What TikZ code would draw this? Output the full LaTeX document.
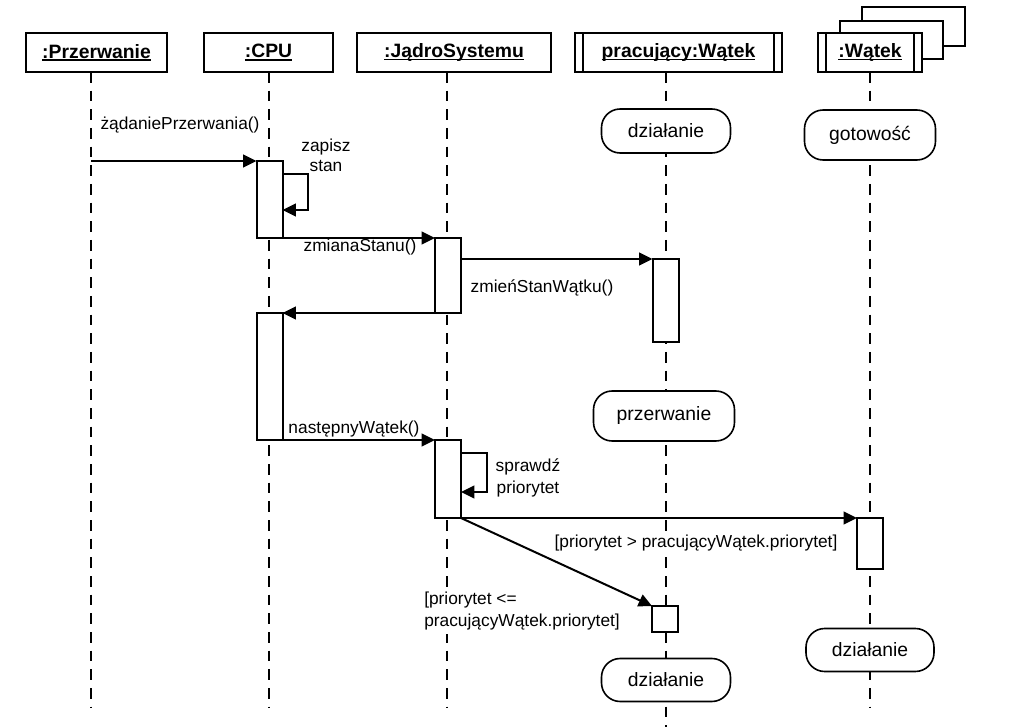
\documentclass[tikz,border=0pt]{standalone}
\usepackage{fontspec}
\setmainfont{Liberation Sans}
\usetikzlibrary{arrows.meta,calc}
\newlength\px
\setlength\px{0.75pt}
\newcommand\objname[1]{\setbox0=\hbox{#1}\rlap{\rule[-2pt]{\wd0}{1.1pt}}\box0}
\tikzset{
  obj/.style={draw,line width=1.5pt,fill=white,inner sep=0pt,outer sep=0pt,minimum height=39\px,font=\fontsize{14.5}{17}\selectfont\bfseries},
  lifeline/.style={line width=2.1pt,dash pattern=on 8pt off 6pt},
  act/.style={draw,line width=1.5pt,fill=white,inner sep=0pt,outer sep=0pt,minimum width=26\px,anchor=north},
  state/.style={draw,line width=1.2pt,fill=white,rounded corners=14pt,inner sep=0pt,font=\fontsize{14.5}{17}\selectfont},
  msg/.style={line width=1.5pt,-{Triangle[length=10pt,width=9.5pt]}},
  lbl/.style={inner sep=1pt,font=\fontsize{13}{16.5}\selectfont},
  guard/.style={lbl,fill=white,inner sep=3pt}
}
\begin{document}
\begin{tikzpicture}[x=0.75pt,y=-0.75pt]
\path[use as bounding box,fill=white] (0,0) rectangle (1032,727);

\node[obj,minimum width=141\px] (prz) at (96.5,52.5) {\objname{:Przerwanie}};
\node[obj,minimum width=129\px] (cpu) at (268.5,52.5) {\objname{:CPU}};
\node[obj,minimum width=194\px] (jad) at (454,52.5) {\objname{:JądroSystemu}};
\node[obj,minimum width=207\px] (prac) at (678.5,52.5) {\objname{pracujący:Wątek}};
\draw[line width=1.5pt,fill=white] (862,7) rectangle (965,46);
\draw[line width=1.5pt,fill=white] (840,21) rectangle (943,59);
\node[obj,minimum width=104\px] (wat) at (870,52.5) {\objname{:Wątek}};
\draw[line width=1.5pt] ([xshift=6pt]prac.north west) -- ([xshift=6pt]prac.south west);
\draw[line width=1.5pt] ([xshift=-6pt]prac.north east) -- ([xshift=-6pt]prac.south east);
\draw[line width=1.5pt] ([xshift=6pt]wat.north west) -- ([xshift=6pt]wat.south west);
\draw[line width=1.5pt] ([xshift=-6pt]wat.north east) -- ([xshift=-6pt]wat.south east);

\coordinate (bot) at (0,707);
\coordinate (end) at (0,727);
\coordinate (pz) at (91,72);
\coordinate (cp) at (269,72);
\coordinate (jd) at (447,72);
\coordinate (pw) at (666,72);
\coordinate (wt) at (870,72);
\draw[lifeline] (pz) -- (pz |- bot);
\draw[lifeline] (cp) -- (cp |- bot);
\draw[lifeline] (jd) -- (jd |- bot);
\draw[lifeline] (pw) -- (pw |- end);
\draw[lifeline] (wt) -- (wt |- bot);

\node[state,minimum width=129\px,minimum height=44\px] (st1) at (666,131) {działanie};
\node[state,minimum width=131\px,minimum height=50\px] (st2) at (870,135) {gotowość};
\node[state,minimum width=141\px,minimum height=50\px] (st3) at (664,416) {przerwanie};
\node[state,minimum width=129\px,minimum height=43\px] (st4) at (666,680) {działanie};
\node[state,minimum width=128\px,minimum height=43\px] (st5) at (870,650) {działanie};

\node[guard] (gw1) at (696,543) {[priorytet > pracującyWątek.priorytet]};
\node[guard,align=left,anchor=west,font=\fontsize{13}{17}\selectfont] (gw2) at (420,611) {[priorytet <=\\pracującyWątek.priorytet]};

\node[act,minimum height=77\px] (cpuA) at (269.5,161) {};
\node[act,minimum height=127\px] (cpuB) at (269.5,313) {};
\node[act,minimum height=75\px] (jadA) at (448,238) {};
\node[act,minimum height=78\px] (jadB) at (448,440) {};
\node[act,minimum height=83\px] (pracA) at (665.5,259) {};
\node[act,minimum height=26\px] (pracB) at (665,606) {};
\node[act,minimum height=51\px] (watA) at (870,518) {};

\node[lbl] (zad) at (180,125) {żądaniePrzerwania()};
\node[lbl,align=center,font=\fontsize{13}{15}\selectfont] (zap) at (326,155) {zapisz\\stan};
\node[lbl] (zms) at (360,247) {zmianaStanu()};
\node[lbl] (zmw) at (542,288) {zmieńStanWątku()};
\node[lbl] (nas) at (354,429) {następnyWątek()};
\node[lbl,align=center,font=\fontsize{13}{16}\selectfont] (spr) at (528,478) {sprawdź\\priorytet};

\draw[msg] (pz |- cpuA.north) -- (cpuA.north west);
\draw[msg] ($(cpuA.north east)+(0,13)$) -- ++(25,0) |- ($(cpuA.north east)+(0,49)$);
\draw[msg] (cpuA.south east) -- (jadA.north west);
\draw[msg] ($(jadA.north east)+(0,21)$) -- (pracA.north west);
\draw[msg] (jadA.south west) -- (cpuB.north east);
\draw[msg] (cpuB.south east) -- (jadB.north west);
\draw[msg] ($(jadB.north east)+(0,13)$) -- ++(26,0) |- ($(jadB.north east)+(0,52)$);
\draw[msg] (jadB.south east) -- (watA.north west);
\draw[msg] (jadB.south east) -- (pracB.north west);
\end{tikzpicture}
\end{document}
